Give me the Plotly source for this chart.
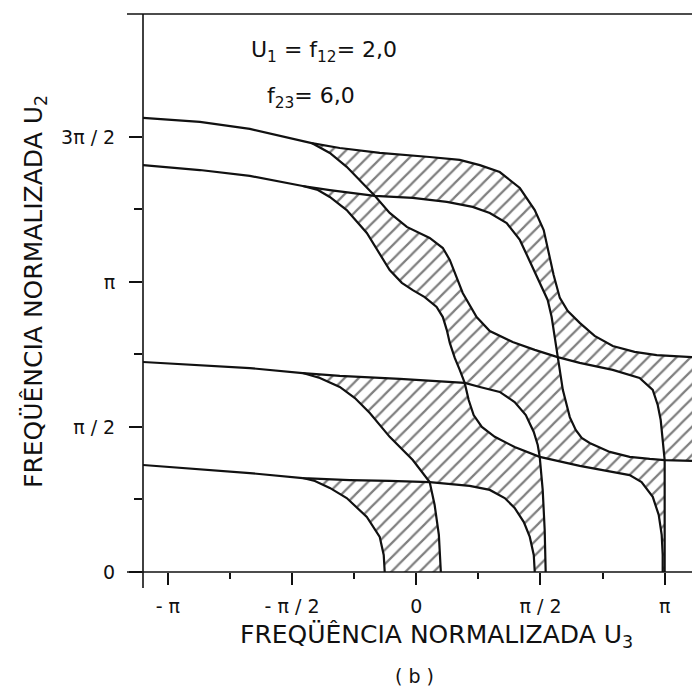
import plotly.graph_objects as go

# Pass-band boundaries, coordinates in units of pi: (U3/pi, U2/pi).
# Each edge runs between two nodes: tangency points, crossings or axis hits.

# left stems, where both boundaries of a band coincide
stem_top_u3 = [-1.10, -0.871, -0.670, -0.509, -0.421]
stem_top_u2 = [1.566, 1.552, 1.528, 1.497, 1.479]
stem_up_u3 = [-1.10, -0.871, -0.670, -0.457]
stem_up_u2 = [1.403, 1.386, 1.366, 1.331]
stem_mid_u3 = [-1.10, -0.871, -0.670, -0.457]
stem_mid_u2 = [0.724, 0.714, 0.703, 0.686]
stem_low_u3 = [-1.10, -0.871, -0.670, -0.457]
stem_low_u2 = [0.369, 0.355, 0.341, 0.324]

# outer boundary of the top band
T_u3 = [-0.421, -0.308, -0.147, 0.054, 0.175, 0.256, 0.336, 0.417, 0.477, 0.513,
        0.533, 0.553, 0.578, 0.610, 0.658, 0.718, 0.791, 0.879, 0.968, 1.11]
T_u2 = [1.479, 1.462, 1.445, 1.431, 1.421, 1.403, 1.379, 1.324, 1.248, 1.179,
        1.103, 1.024, 0.945, 0.900, 0.859, 0.814, 0.779, 0.759, 0.748, 0.741]

# S-shaped curve P
P1_u3 = [-0.421, -0.348, -0.280, -0.215, -0.167]
P1_u2 = [1.479, 1.445, 1.397, 1.341, 1.297]
P2_u3 = [-0.167, -0.107, -0.038, 0.054, 0.107, 0.135, 0.159, 0.187, 0.243, 0.296, 0.388, 0.477, 0.569]
P2_u2 = [1.297, 1.238, 1.190, 1.152, 1.117, 1.076, 1.024, 0.962, 0.879, 0.831, 0.793, 0.766, 0.741]
P3_u3 = [0.569, 0.658, 0.791, 0.899, 0.952, 0.972, 0.984, 0.992, 1.0]
P3_u2 = [0.741, 0.721, 0.697, 0.669, 0.628, 0.576, 0.524, 0.455, 0.386]
P4_u3 = [1.0, 1.0]
P4_u2 = [0.386, 0.0]

# curve Q
Q1_u3 = [-0.457, -0.348, -0.247, -0.167]
Q1_u2 = [1.331, 1.317, 1.307, 1.297]
Q2_u3 = [-0.167, -0.014, 0.123, 0.227, 0.296, 0.364, 0.417, 0.449, 0.497, 0.529, 0.545, 0.557, 0.569]
Q2_u2 = [1.297, 1.290, 1.276, 1.259, 1.238, 1.203, 1.145, 1.086, 0.997, 0.938, 0.879, 0.810, 0.741]
Q3_u3 = [0.569, 0.590, 0.618, 0.642, 0.666, 0.698, 0.779, 0.859, 0.940, 1.0]
Q3_u2 = [0.741, 0.628, 0.534, 0.490, 0.462, 0.445, 0.414, 0.397, 0.390, 0.386]
Q4_u3 = [1.0, 1.11]
Q4_u2 = [0.386, 0.383]

# curve R (lower branch leaving Q)
R1_u3 = [-0.457, -0.396, -0.348, -0.280, -0.199, -0.155, -0.107, -0.058, -0.014, 0.034,
         0.082, 0.107, 0.123, 0.135, 0.155, 0.175, 0.195]
R1_u2 = [1.331, 1.317, 1.293, 1.248, 1.169, 1.110, 1.041, 0.997, 0.972, 0.948,
         0.914, 0.879, 0.834, 0.790, 0.738, 0.697, 0.652]
R2_u3 = [0.195, 0.211, 0.231, 0.264, 0.316, 0.396, 0.497]
R2_u2 = [0.652, 0.593, 0.541, 0.500, 0.466, 0.431, 0.397]
R3_u3 = [0.497, 0.658, 0.791, 0.859, 0.907, 0.952, 0.976, 0.988, 0.992, 0.992]
R3_u2 = [0.397, 0.366, 0.345, 0.334, 0.310, 0.259, 0.197, 0.128, 0.059, 0.0]

# curve C
C1_u3 = [-0.457, -0.308, -0.066, 0.195]
C1_u2 = [0.686, 0.676, 0.666, 0.652]
C2_u3 = [0.195, 0.256, 0.336, 0.396, 0.441, 0.473, 0.489, 0.497]
C2_u2 = [0.652, 0.638, 0.621, 0.586, 0.541, 0.483, 0.438, 0.397]
C3_u3 = [0.497, 0.509, 0.517, 0.521]
C3_u2 = [0.397, 0.283, 0.145, 0.0]

# curve B (leaves C)
B1_u3 = [-0.457, -0.388, -0.308, -0.247, -0.187, -0.107, -0.014, 0.054]
B1_u2 = [0.686, 0.669, 0.638, 0.600, 0.548, 0.466, 0.386, 0.310]
B2_u3 = [0.054, 0.074, 0.091, 0.099]
B2_u2 = [0.310, 0.231, 0.128, 0.0]

# lowest pair A1 / A2
A1_u3 = [-0.457, -0.408, -0.348, -0.280, -0.199, -0.147, -0.131, -0.127]
A1_u2 = [0.324, 0.314, 0.290, 0.255, 0.190, 0.121, 0.059, 0.0]
A2a_u3 = [-0.457, -0.268, -0.107, 0.054]
A2a_u2 = [0.324, 0.317, 0.314, 0.310]
A2b_u3 = [0.054, 0.215, 0.296, 0.356, 0.396, 0.433, 0.457, 0.473, 0.477]
A2b_u2 = [0.310, 0.297, 0.283, 0.255, 0.221, 0.172, 0.121, 0.059, 0.0]

x_ticks = [-1, -0.5, 0, 0.5, 1]
x_labels = ["- π", "- π / 2", "0", "π / 2", "π"]
x_minor = [-0.75, -0.25, 0.25, 0.75]
y_ticks = [0, 0.5, 1, 1.5]
y_labels = ["0", "π / 2", "π", "3π / 2"]
y_minor = [0.25, 0.75, 1.25]

X_RANGE = [-1.10, 1.11]
Y_RANGE = [0, 1.924]
INK = "#111111"


def rev(a):
    return list(reversed(a))


def chain(*parts):
    out = []
    for p in parts:
        out += list(p)
    return out


# hatched cells, built by walking along the edges
cells = [
    (chain(T_u3, [1.11], rev(Q4_u3), rev(P3_u3), rev(Q2_u3), rev(P1_u3)),
     chain(T_u2, [0.383], rev(Q4_u2), rev(P3_u2), rev(Q2_u2), rev(P1_u2))),
    (chain(Q1_u3, P2_u3, Q3_u3, P4_u3, rev(R3_u3), rev(C2_u3), rev(R1_u3)),
     chain(Q1_u2, P2_u2, Q3_u2, P4_u2, rev(R3_u2), rev(C2_u2), rev(R1_u2))),
    (chain(C1_u3, R2_u3, C3_u3, rev(A2b_u3), rev(B1_u3)),
     chain(C1_u2, R2_u2, C3_u2, rev(A2b_u2), rev(B1_u2))),
    (chain(A2a_u3, B2_u3, rev(A1_u3)),
     chain(A2a_u2, B2_u2, rev(A1_u2))),
]

curves = [
    (chain(stem_top_u3, T_u3), chain(stem_top_u2, T_u2)),
    (chain(P1_u3, P2_u3, P3_u3, P4_u3), chain(P1_u2, P2_u2, P3_u2, P4_u2)),
    (chain(stem_up_u3, Q1_u3, Q2_u3, Q3_u3, Q4_u3), chain(stem_up_u2, Q1_u2, Q2_u2, Q3_u2, Q4_u2)),
    (chain(R1_u3, R2_u3, R3_u3), chain(R1_u2, R2_u2, R3_u2)),
    (chain(stem_mid_u3, C1_u3, C2_u3, C3_u3), chain(stem_mid_u2, C1_u2, C2_u2, C3_u2)),
    (chain(B1_u3, B2_u3), chain(B1_u2, B2_u2)),
    (chain(stem_low_u3, A2a_u3, A2b_u3), chain(stem_low_u2, A2a_u2, A2b_u2)),
    (A1_u3, A1_u2),
]

fig = go.Figure()
for cx, cy in cells:
    fig.add_trace(go.Scatter(
        x=cx, y=cy, mode="none", fill="toself", fillcolor="white",
        fillpattern=dict(shape="/", size=10, solidity=0.22, fgcolor="#000000", bgcolor="white"),
        hoverinfo="skip", showlegend=False))
for cx, cy in curves:
    fig.add_trace(go.Scatter(
        x=cx, y=cy, mode="lines", line=dict(color=INK, width=2.2),
        hoverinfo="skip", showlegend=False))

W, H = 692, 691
L, R, T, B = 143, 0, 14, 119
PW, PH = W - L - R, H - T - B


def px(xp):
    return (xp - L) / PW


def py(yp):
    return (H - B - yp) / PH


# frame lines: bottom and left axes plus the top border
frame = [
    (px(127), py(572), 1.0, py(572)),
    (px(143), py(588), px(143), py(14)),
    (px(127), py(14), 1.0, py(14)),
]
for x0, y0, x1, y1 in frame:
    fig.add_shape(type="line", xref="paper", yref="paper", x0=x0, y0=y0, x1=x1, y1=y1,
                  line=dict(color=INK, width=1.6), layer="above")

font_main = "DejaVu Sans"
fig.add_annotation(xref="paper", yref="paper", x=px(436), y=py(636),
                   text="FREQÜÊNCIA NORMALIZADA U<sub>3</sub>", showarrow=False,
                   font=dict(family=font_main, size=25, color=INK),
                   xanchor="center", yanchor="middle")
fig.add_annotation(xref="paper", yref="paper", x=px(35), y=py(292),
                   text="FREQÜÊNCIA NORMALIZADA U<sub>2</sub>", showarrow=False, textangle=-90,
                   font=dict(family=font_main, size=25, color=INK),
                   xanchor="center", yanchor="middle")
fig.add_annotation(xref="paper", yref="paper", x=px(414), y=py(676),
                   text="( b )", showarrow=False,
                   font=dict(family=font_main, size=19, color=INK),
                   xanchor="center", yanchor="middle")
fig.add_annotation(xref="paper", yref="paper", x=px(249), y=py(51),
                   text="U<sub>1</sub> = f<sub>12</sub>= 2,0", showarrow=False,
                   font=dict(family=font_main, size=22, color=INK),
                   xanchor="left", yanchor="middle")
fig.add_annotation(xref="paper", yref="paper", x=px(265), y=py(98),
                   text="f<sub>23</sub>= 6,0", showarrow=False,
                   font=dict(family=font_main, size=22, color=INK),
                   xanchor="left", yanchor="middle")

fig.update_xaxes(range=X_RANGE, showgrid=False, zeroline=False, showline=False,
                 ticks="outside", ticklen=12, tickwidth=1.5, tickcolor=INK,
                 tickvals=x_ticks, ticktext=x_labels, ticklabelstandoff=5,
                 tickfont=dict(family=font_main, size=19, color=INK),
                 minor=dict(tickvals=x_minor, ticks="outside", ticklen=6, tickwidth=1.5,
                            tickcolor=INK, showgrid=False))
fig.update_yaxes(range=Y_RANGE, showgrid=False, zeroline=False, showline=False,
                 ticks="outside", ticklen=13, tickwidth=1.5, tickcolor=INK,
                 tickvals=y_ticks, ticktext=y_labels, ticklabelstandoff=10,
                 tickfont=dict(family=font_main, size=19, color=INK),
                 minor=dict(tickvals=y_minor, ticks="outside", ticklen=8, tickwidth=1.5,
                            tickcolor=INK, showgrid=False))
fig.update_layout(width=W, height=H, margin=dict(l=L, r=R, t=T, b=B),
                  plot_bgcolor="white", paper_bgcolor="white", showlegend=False)

fig.write_html("out.html")
